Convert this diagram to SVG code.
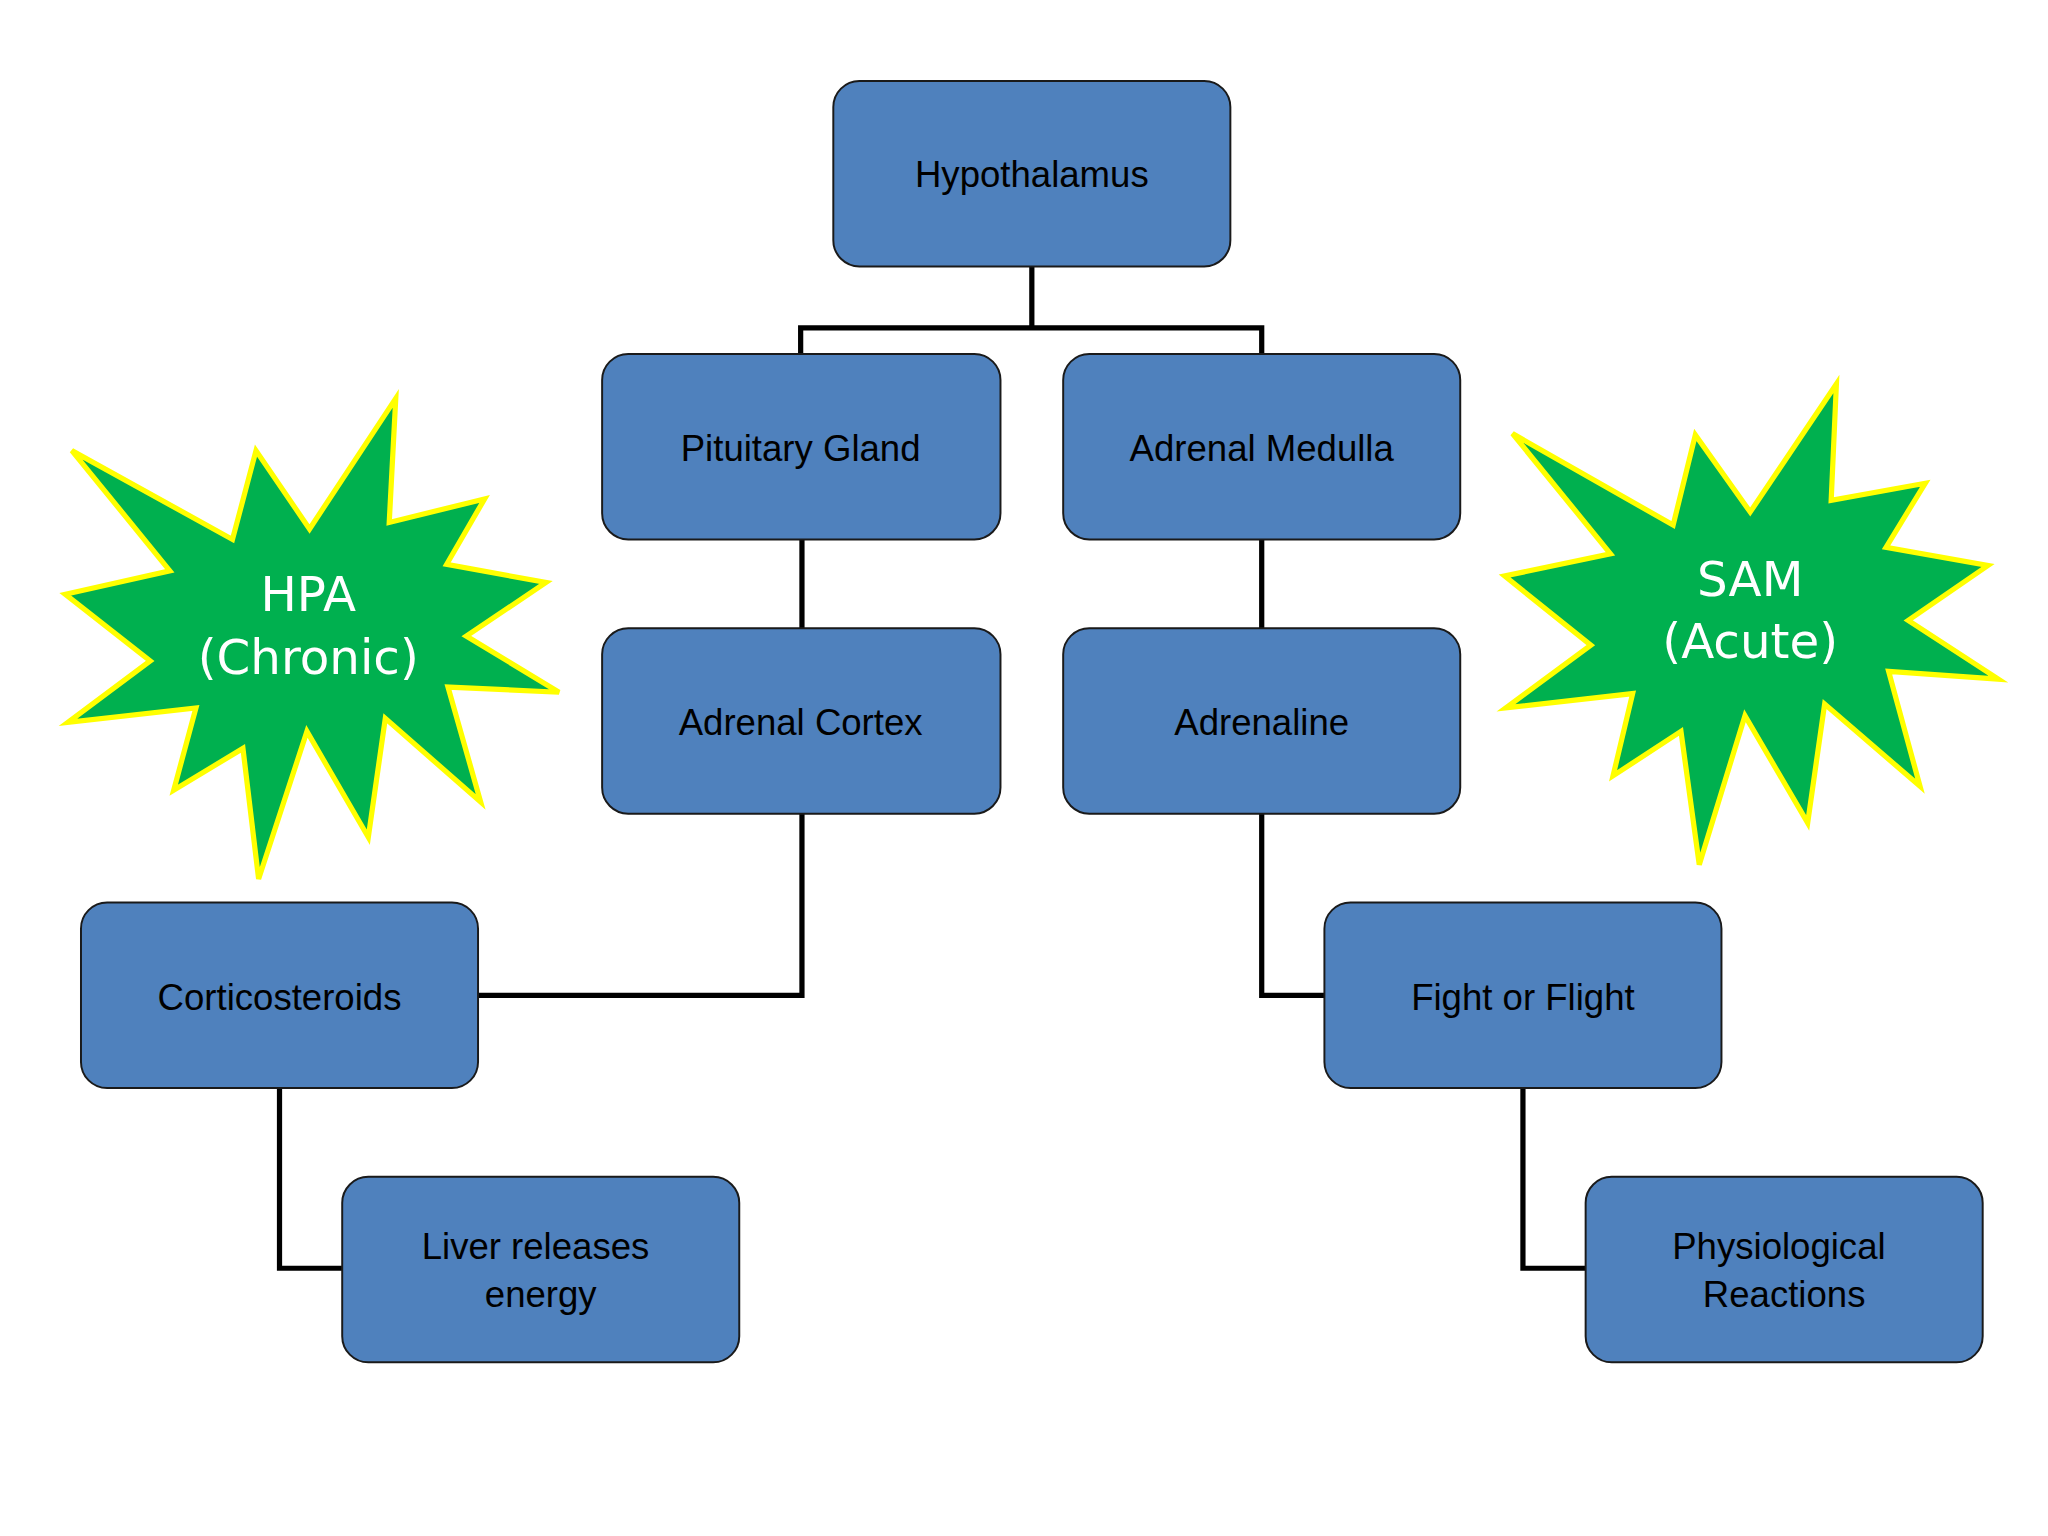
<svg xmlns="http://www.w3.org/2000/svg" width="2048" height="1536" viewBox="0 0 2048 1536">
<style>
.b{fill:#4f81bd;stroke:#1a1a1a;stroke-width:1.5}
.t{font-family:"Liberation Sans",Arial,sans-serif;font-size:28px;fill:#000;text-anchor:middle}
.s{fill:#00b04f;stroke:#ffff00;stroke-width:4;stroke-linejoin:miter}
.st{font-family:"DejaVu Sans",sans-serif;font-size:37px;fill:#fff;text-anchor:middle}
.c{fill:none;stroke:#000;stroke-width:4}
</style>
<rect width="2048" height="1536" fill="#fff"/>
<g transform="scale(1.30612)">
<g id="connectors">
<path class="c" d="M790 204V251H613V271M790 251H966V271"/>
<path class="c" d="M614 413V481M966 413V481"/>
<path class="c" d="M614 623V762H366"/>
<path class="c" d="M966 623V762H1014"/>
<path class="c" d="M214 833V971H262"/>
<path class="c" d="M1166 833V971H1214"/>
</g>
<g id="hpa"><polygon class="s" points="55,345 178,413 196,345 237,405 303,305 298,400 371,382 342,432 418,446 357,487 428,530 343,526 368,614 295,550 282,641 235,560 198,673 186,573 133,605 150,542 52,553 115,506 50,455 130,437"/>
<text class="st" x="236" y="468">HPA</text><text class="st" x="236" y="516">(Chronic)</text></g>
<g id="sam"><polygon class="s" points="1158,332 1281,402 1298,333 1340,392 1406,294 1402,383 1474,370 1444,419 1522,433 1461,475 1530,520 1446,514 1470,602 1397,539 1384,630 1336,548 1301,662 1287,560 1235,594 1250,531 1153,542 1218,494 1152,441 1233,424"/>
<text class="st" x="1340" y="456">SAM</text><text class="st" x="1340" y="504">(Acute)</text></g>
<g id="hypothalamus"><rect class="b" x="638" y="62" width="304" height="142" rx="20"/><text class="t" x="790" y="143">Hypothalamus</text></g>
<g id="pituitary"><rect class="b" x="461" y="271" width="305" height="142" rx="20"/><text class="t" x="613" y="353">Pituitary Gland</text></g>
<g id="medulla"><rect class="b" x="814" y="271" width="304" height="142" rx="20"/><text class="t" x="966" y="353">Adrenal Medulla</text></g>
<g id="cortex"><rect class="b" x="461" y="481" width="305" height="142" rx="20"/><text class="t" x="613" y="563">Adrenal Cortex</text></g>
<g id="adrenaline"><rect class="b" x="814" y="481" width="304" height="142" rx="20"/><text class="t" x="966" y="563">Adrenaline</text></g>
<g id="corticosteroids"><rect class="b" x="62" y="691" width="304" height="142" rx="20"/><text class="t" x="214" y="773">Corticosteroids</text></g>
<g id="fight"><rect class="b" x="1014" y="691" width="304" height="142" rx="20"/><text class="t" x="1166" y="773">Fight or Flight</text></g>
<g id="liver"><rect class="b" x="262" y="901" width="304" height="142" rx="20"/><text class="t" x="410" y="964">Liver releases</text><text class="t" x="414" y="1001">energy</text></g>
<g id="physio"><rect class="b" x="1214" y="901" width="304" height="142" rx="20"/><text class="t" x="1362" y="964">Physiological</text><text class="t" x="1366" y="1001">Reactions</text></g>
</g>
</svg>
